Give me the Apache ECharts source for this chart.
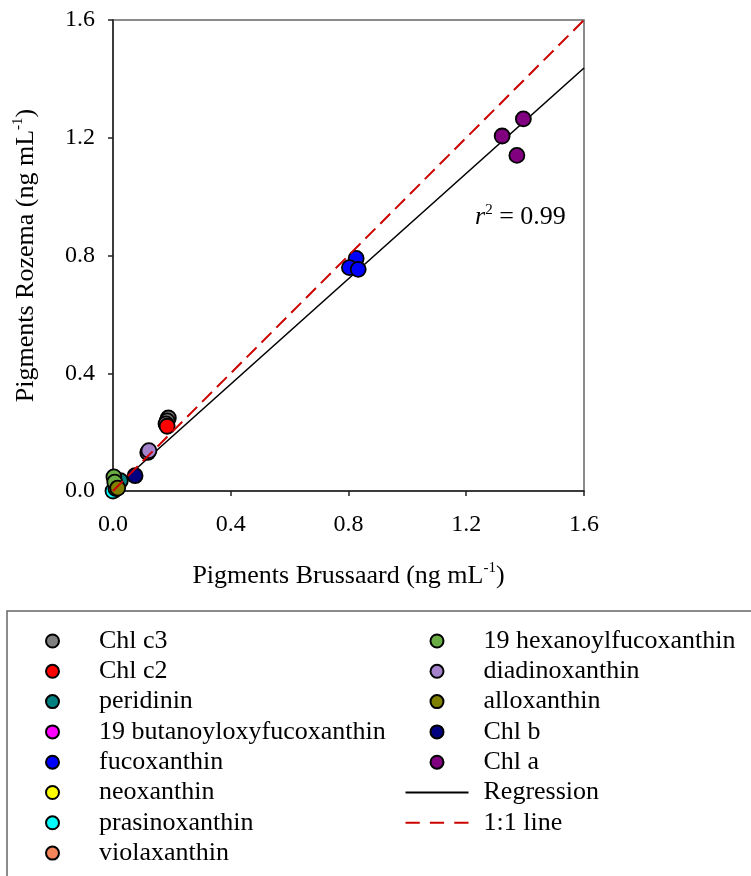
<!DOCTYPE html>
<html><head><meta charset="utf-8">
<script src="https://cdn.jsdelivr.net/npm/echarts@6/dist/echarts.min.js"></script>
<style>html,body{margin:0;padding:0;background:#fff}#c{width:751px;height:876px}</style>
</head><body><div id="c"></div>
<script>
const FONT = '"Liberation Serif","Times New Roman",serif';
const pigmentNames = ['Chl c3','Chl c2','peridinin','19 butanoyloxyfucoxanthin','fucoxanthin','neoxanthin','prasinoxanthin','violaxanthin','19 hexanoylfucoxanthin','diadinoxanthin','alloxanthin','Chl b','Chl a'];
const pigmentColors = ['#808080','#ff0000','#008080','#ff00ff','#0000ff','#ffff00','#00ffff','#f4845a','#6aad45','#a482cc','#808000','#000080','#800080'];
const chlC3 = [[0.188,0.248],[0.184,0.238],[0.180,0.228]];
const chlC2 = [[0.184,0.220]];
const peridinin = [[0.025,0.035]];
const butanoyl = [[0.012,0.010]];
const fucoxanthin = [[0.826,0.790],[0.803,0.759],[0.833,0.753]];
const neoxanthin = [[0.006,0.004]];
const prasinoxanthin = [[0.000,0.000]];
const violaxanthin = [[0.010,0.008]];
const hexanoyl = [[0.003,0.048],[0.006,0.030]];
const diadinoxanthin = [[0.118,0.131],[0.122,0.137]];
const alloxanthin = [[0.016,0.010]];
const chlB = [[0.075,0.052]];
const chlA = [[1.394,1.264],[1.322,1.206],[1.372,1.140]];
const regression = [[0,0.005],[1.6,1.437]];
const oneToOne = [[0,0],[1.6,1.6]];
const axisTicks = [0,0.4,0.8,1.2,1.6];
const r2Value = '0.99';

const pigmentData = [chlC3,chlC2,peridinin,butanoyl,fucoxanthin,neoxanthin,prasinoxanthin,violaxanthin,hexanoyl,diadinoxanthin,alloxanthin,chlB,chlA];

const chart = echarts.init(document.getElementById('c'), null, {renderer:'canvas'});
const tickInterval = axisTicks[1]-axisTicks[0];
const scatterSeries = pigmentNames.map((n,i)=>({
  name:n, type:'scatter', data:pigmentData[i], symbol:'circle', symbolSize:15, clip:false,
  itemStyle:{color:pigmentColors[i], borderColor:'#000', borderWidth:1.8, opacity:1},
  emphasis:{disabled:true}, z:3
}));
const lineSeries = [
  {name:'Regression', type:'line', data:regression, symbol:'none', showSymbol:false, lineStyle:{color:'#000', width:1.6}, itemStyle:{color:'#000'}, z:2, emphasis:{disabled:true}},
  {name:'1:1 line', type:'line', data:oneToOne, symbol:'none', showSymbol:false, lineStyle:{color:'#cc0000', width:2, type:[14,7]}, itemStyle:{color:'#cc0000'}, z:4, emphasis:{disabled:true}}
];
const legendText = {fontFamily:FONT, fontSize:26, color:'#000', lineHeight:30, padding:[0,0,0,10]};
const col1 = pigmentNames.slice(0,8).map(n=>({name:n, icon:'circle'}));
const col2 = pigmentNames.slice(8).map(n=>({name:n, icon:'circle'})).concat([
  {name:'Regression', icon:'path://M0,0h62v2h-62z'},
  {name:'1:1 line', icon:'path://M0,0h14v2h-14z M24,0h14v2h-14z M48,0h14v2h-14z'}
]);
const axisCommon = {
  type:'value', min:axisTicks[0], max:axisTicks[axisTicks.length-1], interval:tickInterval,
  splitLine:{show:false},
  axisLine:{show:true, lineStyle:{color:'#222', width:1.5}},
  axisTick:{show:true, inside:false, length:5, lineStyle:{color:'#222', width:1.5}},
  axisLabel:{fontFamily:FONT, fontSize:24, color:'#000', formatter:v=>v.toFixed(1)},
  nameLocation:'middle'
};
const nameRich = {
  b:{fontFamily:FONT, fontSize:26, color:'#000', lineHeight:30},
  s:{fontFamily:FONT, fontSize:15, color:'#000', verticalAlign:'top', lineHeight:30}
};
const boxRect = {type:'rect', shape:{x:7, y:611, width:800, height:320}, style:{fill:'none', stroke:'#666', lineWidth:1.5}, silent:true};
chart.setOption({
  animation:false,
  backgroundColor:'#fff',
  grid:{left:113, top:20, width:471, height:471, show:true, borderColor:'#666', borderWidth:1.5, backgroundColor:'transparent'},
  xAxis:Object.assign({}, axisCommon, {
    name:'{b|Pigments Brussaard (ng mL}{s|-1}{b|)}', nameGap:70,
    nameTextStyle:{rich:nameRich},
    axisLabel:Object.assign({}, axisCommon.axisLabel, {margin:22})
  }),
  yAxis:Object.assign({}, axisCommon, {
    name:'{b|Pigments Rozema (ng mL}{s|-1}{b|)}', nameGap:72, nameRotate:90,
    nameTextStyle:{rich:nameRich},
    axisLabel:Object.assign({}, axisCommon.axisLabel, {margin:18})
  }),
  legend:[
    {data:col1, orient:'vertical', left:40, top:621, height:260, itemWidth:63, itemHeight:13, itemGap:0.3, selectedMode:false, textStyle:legendText},
    {data:col2, orient:'vertical', left:400.5, top:621, height:260, itemWidth:63, itemHeight:13, itemGap:0.3, selectedMode:false, textStyle:legendText}
  ],
  series:scatterSeries.concat(lineSeries),
  graphic:[boxRect]
});
const p = chart.convertToPixel({gridIndex:0}, [1.23, 0.93]);
chart.setOption({graphic:[
  boxRect,
  {type:'text', x:p[0], y:p[1], silent:true, style:{
    text:'{i|r}{s|2}{b| = '+r2Value+'}', verticalAlign:'middle',
    rich:{
      i:{fontFamily:FONT, fontSize:26, fontStyle:'italic', color:'#000', lineHeight:30},
      s:{fontFamily:FONT, fontSize:15, color:'#000', verticalAlign:'top', lineHeight:30},
      b:{fontFamily:FONT, fontSize:26, color:'#000', lineHeight:30}
    }
  }}
]});
</script></body></html>
